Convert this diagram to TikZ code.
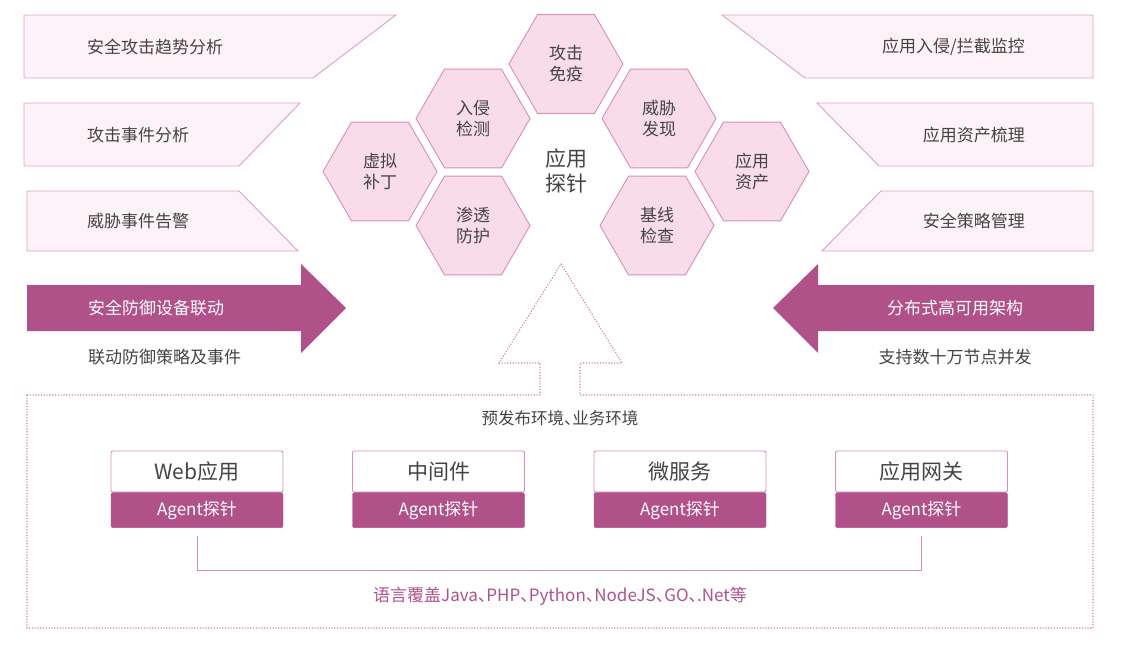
\documentclass[tikz,border=0pt]{standalone}
\usepackage{fontspec}
\setmainfont{Noto Sans CJK SC}
\newfontfamily\halfpunct[RawFeature=+halt]{Noto Sans CJK SC}
\usetikzlibrary{positioning,shapes.geometric}
\definecolor{textgray}{HTML}{444444}
\definecolor{probepink}{HTML}{B0518A}
\definecolor{bannerfill}{HTML}{FDF2F7}
\definecolor{bannerline}{HTML}{DE9FC7}
\definecolor{hexfill}{HTML}{F9DCE9}
\definecolor{hexline}{HTML}{D98DBA}
\definecolor{dotpink}{HTML}{D277AC}

\begin{document}
\begin{tikzpicture}[
  x=1pt,y=-1pt,
  font=\fontsize{17}{21}\selectfont,
  label/.style={text=textgray,inner sep=0pt},
  banner/.style={draw=bannerline,fill=bannerfill,line width=0.9pt},
  hexcell/.style={regular polygon,regular polygon sides=6,minimum size=114pt,
    inner sep=0pt,draw=hexline,fill=hexfill,line width=0.9pt,
    text=textgray,align=center},
  bigarrow/.style={fill=probepink},
  envline/.style={draw=dotpink,line width=1.1pt,dash pattern=on 1.1pt off 1.7pt},
  apptitle/.style={draw=hexline,fill=white,line width=0.9pt,rounded corners=2pt,
    minimum width=172pt,minimum height=41pt,text=textgray,
    font=\fontsize{21}{25}\selectfont},
  appagent/.style={draw=probepink,fill=probepink,rounded corners=2pt,
    minimum width=172pt,minimum height=35pt,text=white},
  bracket/.style={draw=hexline,line width=0.9pt}
]
  \useasboundingbox (0,0) rectangle (1145,651);

  % left banners
  \draw[banner] (24,15) -- (396,15) -- (313,78) -- (24,78) -- cycle;
  \draw[banner] (24,103) -- (300,103) -- (239,166) -- (24,166) -- cycle;
  \draw[banner] (27,191) -- (239,191) -- (298,251) -- (27,251) -- cycle;
  \node[label,anchor=west] (trend) at (87,47) {安全攻击趋势分析};
  \node[label,anchor=west] (attack) at (87,135) {攻击事件分析};
  \node[label,anchor=west] (alert) at (87,221) {威胁事件告警};

  % right banners
  \draw[banner] (722,15) -- (1093,15) -- (1093,78) -- (805,78) -- cycle;
  \draw[banner] (817,103) -- (1093,103) -- (1093,166) -- (879,166) -- cycle;
  \draw[banner] (881,191) -- (1093,191) -- (1093,251) -- (822,251) -- cycle;
  \node[label,anchor=east] (monitor) at (1025,47) {应用入侵/拦截监控};
  \node[label,anchor=east] (assets) at (1025,135) {应用资产梳理};
  \node[label,anchor=east] (policy) at (1025,221) {安全策略管理};

  % hexagons round the probe
  \foreach \name/\x/\y/\txt in {
      immune/566/64/攻击\\免疫, detect/473/118.5/入侵\\检测,
      discover/659/118.5/威胁\\发现, patch/380/171.5/虚拟\\补丁,
      asset/752/171.5/应用\\资产, protect/473/225.5/渗透\\防护,
      baseline/657/225.5/基线\\检查}
    \node[hexcell] (\name) at (\x,\y) {\txt};
  \node[label,align=center,font=\fontsize{21}{25}\selectfont] (probe) at (566,171) {应用\\探针};

  % big arrows
  \fill[bigarrow] (27,285) -- (301,285) -- (301,264) -- (346,308)
    -- (301,353) -- (301,331) -- (27,331) -- cycle;
  \fill[bigarrow] (1094,285) -- (818,285) -- (818,264) -- (773,308)
    -- (818,353) -- (818,331) -- (1094,331) -- cycle;
  \node[label,text=white,anchor=west] (linkage) at (88,308) {安全防御设备联动};
  \node[label,anchor=west] (linkpolicy) at (88,357) {联动防御策略及事件};
  \node[label,text=white] (arch) at (955,308) {分布式高可用架构};
  \node[label] (nodes) at (955,357) {支持数十万节点并发};

  % environment frame with the hollow arrow
  \draw[envline] (27,395) -- (540,395) -- (540,363) -- (499,363) -- (561,264)
    -- (622,363) -- (580,363) -- (580,395) -- (1093,395) -- (1093,628)
    -- (27,628) -- cycle;
  \node[label,font=\halfpunct\fontsize{16.5}{20}\selectfont] (env) at (560,418) {预发布环境、业务环境};

  % application boxes
  \foreach \name/\title [count=\i] in {web/Web应用, middle/中间件, micro/微服务, gateway/应用网关} {
    \pgfmathsetmacro{\bx}{197+(\i-1)*241.5}
    \node[apptitle] (\name) at (\bx,471.5) {\title};
    \node[appagent,below=0pt of \name] (\name-agent) {Agent探针};
  }
  \draw[bracket] ([yshift=-8pt]web-agent.south) -- ++(0,35)
    -| ([yshift=-8pt]gateway-agent.south);
  \node[label,text=probepink,font=\halfpunct\fontsize{17}{21}\selectfont] (lang) at (560,596) {语言覆盖Java、PHP、Python、NodeJS、GO、.Net等};
\end{tikzpicture}
\end{document}
